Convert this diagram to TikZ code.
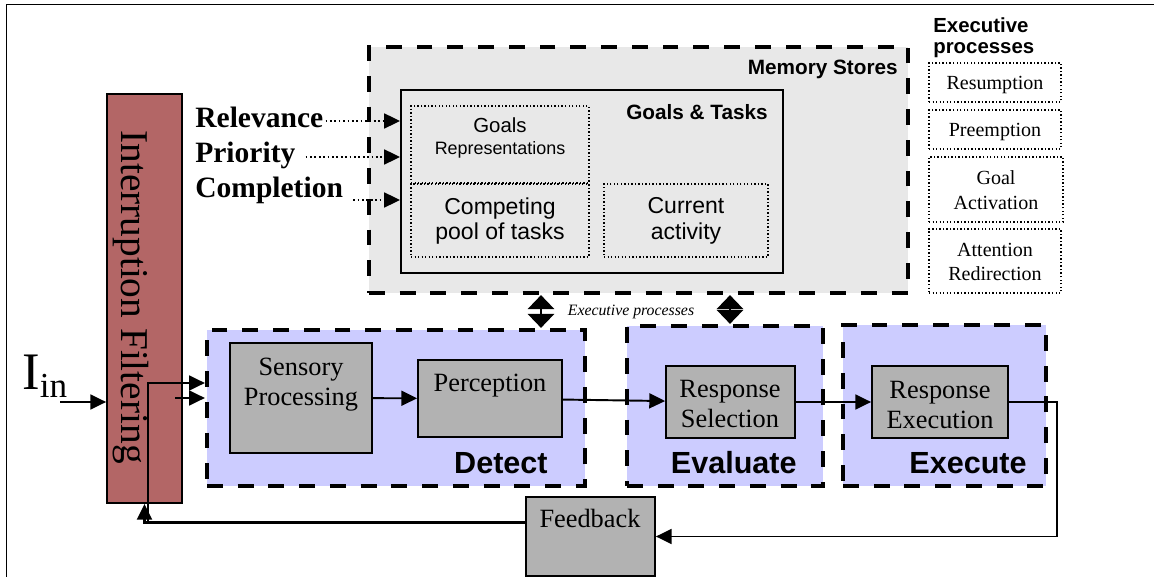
\documentclass[tikz,border=0pt]{standalone}
\usepackage{fontspec}
\setmainfont{Liberation Serif}
\setsansfont{Liberation Sans}
\usepackage{xcolor}
\usetikzlibrary{arrows.meta,positioning,calc,fit}

\definecolor{filterred}{RGB}{179,102,102}
\definecolor{stagefill}{RGB}{204,204,255}
\definecolor{memfill}{RGB}{232,232,232}
\definecolor{procgray}{RGB}{178,178,178}

\begin{document}
\begin{tikzpicture}[x=0.02cm,y=-0.02cm,
	every node/.style={inner sep=0pt},
	stage/.style={draw,line width=2.4pt,dash pattern=on 9pt off 8.5pt},
	proc/.style={draw,fill=procgray,line width=1pt},
	ptext/.style={font=\fontsize{15}{17}\selectfont,align=center},
	stagelbl/.style={font=\sffamily\bfseries\fontsize{17.4}{20}\selectfont,anchor=base east},
	dotbox/.style={draw,line width=0.8pt,dash pattern=on 0.8pt off 1.2pt},
	exectext/.style={font=\fontsize{11.4}{14}\selectfont,align=center},
	arr/.style={-{Triangle[length=9pt,width=8.5pt]},line width=1.1pt},
	dotarr/.style={arr,line width=1pt,dash pattern=on 1pt off 1.5pt},
	dblarr/.style={{Triangle[length=8pt,width=15pt]}-{Triangle[length=8pt,width=15pt]},line width=1.5pt}]
	\useasboundingbox (0,0) rectangle (1154,577);
	
	% frame
	\draw[line width=1pt] (6.5,577) -- (6.5,4.5) -- (1154,4.5);
	
	% memory stores
	\node[stage,fill=memfill,fit={(369,47) (908,293)}] (mem) {};
	\node[font=\sffamily\bfseries\fontsize{11.8}{13}\selectfont,anchor=base east] (memlbl) at (898,75) {Memory Stores};
	\node[draw,fill=memfill,line width=1.1pt,fit={(401,90) (783,273)}] (gt) {};
	\node[font=\sffamily\bfseries\fontsize{11.8}{13}\selectfont,anchor=base] (gtlbl) at (697,120) {Goals \& Tasks};
	\node[dotbox,fit={(411,106) (589,183)}] (goalrep) {};
	\node[font=\sffamily\fontsize{11.6}{13}\selectfont,anchor=base] (goaltxt) at (500,133) {Goals};
	\node[font=\sffamily\fontsize{10.2}{12}\selectfont,anchor=base] (reptxt) at (500,155) {Representations};
	\node[dotbox,fit={(411,184) (589,257)}] (pool) {};
	\node[font=\sffamily\fontsize{13.1}{14.7}\selectfont,align=center] (pooltxt) at (500,221) {Competing\\pool of tasks};
	\node[dotbox,fit={(604,184) (768,257)}] (cur) {};
	\node[font=\sffamily\fontsize{13.1}{14.7}\selectfont,align=center] (curtxt) at (686,221) {Current\\activity};
	
	% relevance, priority, completion
	\node[font=\bfseries\fontsize{16.8}{19}\selectfont,anchor=base west] (rel) at (195,128) {Relevance};
	\node[font=\bfseries\fontsize{16.8}{19}\selectfont,anchor=base west] (prio) at (195,163) {Priority};
	\node[font=\bfseries\fontsize{16.8}{19}\selectfont,anchor=base west] (comp) at (195,198) {Completion};
	\draw[dotarr] ([shift={(2,-7)}]rel.base east) coordinate (r0) -- (r0 -| gt.west);
	\draw[dotarr] ([shift={(10,-6)}]prio.base east) coordinate (p0) -- (p0 -| gt.west);
	\draw[dotarr] ([shift={(10,2)}]comp.base east) coordinate (c0) -- (c0 -| gt.west);
	
	% executive processes
	\node[font=\sffamily\bfseries\fontsize{11.6}{12}\selectfont,align=left,anchor=north west] (exechead) at (933,17) {Executive\\processes};
	\node[dotbox,fit={(929,63) (1061,102)}] (resum) {};
	\node[exectext,anchor=base] (resumtxt) at (995,90) {Resumption};
	\node[dotbox,fit={(929,110) (1061,149)}] (preem) {};
	\node[exectext,anchor=base] (preemtxt) at (995,137) {Preemption};
	\node[dotbox,fit={(929,157) (1063,222)}] (gact) {};
	\node[exectext] (gacttxt) at (996,190) {Goal\\Activation};
	\node[dotbox,fit={(929,229) (1061,293)}] (attn) {};
	\node[exectext] (attntxt) at (995,262) {Attention\\Redirection};
	
	% stages
	\node[stage,fill=stagefill,fit={(207,330) (585,486)}] (detect) {};
	\node[stage,fill=stagefill,fit={(627,326) (823,486)}] (evaluate) {};
	\node[stage,fill=stagefill,fit={(843,325) (1046,486)}] (execute) {};
	\node[stagelbl] (detectlbl) at (548,474) {Detect};
	\node[stagelbl] (evaluatelbl) at (797,474) {Evaluate};
	\node[stagelbl] (executelbl) at (1027,474) {Execute};
	
	\node[proc,fit={(230,343) (372,453)}] (sens) {};
	\node[ptext] (senstxt) at (301,385) {Sensory\\Processing};
	\node[proc,fit={(418,360) (562,437)}] (perc) {};
	\node[ptext,anchor=base] (perctxt) at (490,392) {Perception};
	\node[proc,fit={(666,366) (795,438)}] (rsel) {};
	\node[ptext] (rseltxt) at (730,404) {Response\\Selection};
	\node[proc,fit={(872,366) (1008,438)}] (rexe) {};
	\node[ptext] (rexetxt) at (940,405) {Response\\Execution};
	\node[proc,fit={(526,497) (655,576)}] (fb) {};
	\node[ptext,anchor=base] (fbtxt) at (590,528) {Feedback};
	
	% executive processes between memory and stages
	\coordinate (ex1) at (541,0);
	\coordinate (ex2) at (730,0);
	\draw[dblarr] (mem.south -| ex1) -- (detect.north -| ex1);
	\draw[dblarr] (mem.south -| ex2) -- (evaluate.north -| ex2);
	\node[font=\itshape\fontsize{9}{10}\selectfont] (exproc) at (631,312) {Executive processes};
	
	% interruption filtering
	\node[draw,fill=filterred,line width=1pt,fit={(107,94) (182,503)}] (filter) {};
	\node[font=\fontsize{22.4}{25}\selectfont,rotate=-90] (filtertxt) at (131,297) {Interruption Filtering};
	\node[font=\fontsize{30}{32}\selectfont,anchor=base west] (iin) at (22,390) {I\raisebox{-4pt}{\fontsize{20}{22}\selectfont in}};
	\coordinate (in0) at (60,402);
	\draw[arr] (in0) -- (in0 -| filter.west);
	\coordinate (f0) at (175,398);
	\draw[arr] (f0) -- (f0 -| detect.west);
	
	% flow
	\draw[arr] (sens) -- (perc);
	\draw[arr] (perc) -- (rsel);
	\draw[arr] (rsel) -- (rexe);
	\draw[arr] (rexe.east) -- ++(48,0) |- (fb.east);
	\draw[arr,line width=1.4pt] ([shift={(0,-14)}]fb.west) -| (filter.south);
	\coordinate (fbsplit) at (148,522);
	\draw[arr] (fbsplit) |- ([shift={(0,-25)}]detect.west);
\end{tikzpicture}
\end{document}
